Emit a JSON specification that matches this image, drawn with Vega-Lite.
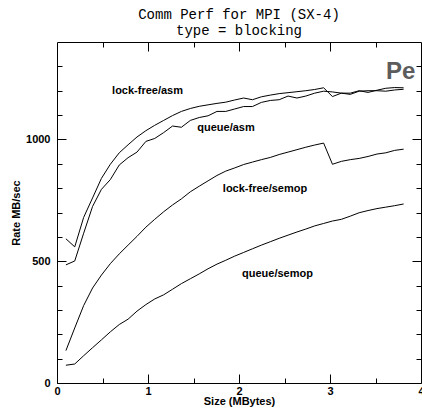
{
  "$schema": "https://vega.github.io/schema/vega-lite/v6.json",
  "width": 364,
  "height": 341,
  "autosize": "none",
  "padding": {"left": 57, "top": 42, "right": 1, "bottom": 26},
  "background": "white",
  "title": {
    "text": ["Comm Perf for MPI (SX-4)", "type = blocking"],
    "font": "Liberation Mono",
    "fontSize": 14,
    "fontWeight": "normal",
    "lineHeight": 16,
    "offset": 4,
    "color": "black"
  },
  "config": {
    "view": {"stroke": "black", "strokeWidth": 1},
    "axis": {
      "domain": false,
      "grid": false,
      "format": "d",
      "labelFont": "Liberation Sans",
      "labelFontWeight": "bold",
      "labelFontSize": 11,
      "labelColor": "black",
      "labelFlush": false,
      "labelOverlap": false,
      "tickColor": "black",
      "tickWidth": 1,
      "titleFont": "Liberation Sans",
      "titleFontWeight": "bold",
      "titleFontSize": 11,
      "titleColor": "black"
    }
  },
  "datasets": {
    "curves": [
      {"series": "lock-free/asm", "size": 0.098, "rate": 592},
      {"series": "lock-free/asm", "size": 0.195, "rate": 559},
      {"series": "lock-free/asm", "size": 0.293, "rate": 680},
      {"series": "lock-free/asm", "size": 0.391, "rate": 760},
      {"series": "lock-free/asm", "size": 0.488, "rate": 840},
      {"series": "lock-free/asm", "size": 0.586, "rate": 898},
      {"series": "lock-free/asm", "size": 0.684, "rate": 945},
      {"series": "lock-free/asm", "size": 0.781, "rate": 978},
      {"series": "lock-free/asm", "size": 0.879, "rate": 1010},
      {"series": "lock-free/asm", "size": 0.977, "rate": 1036},
      {"series": "lock-free/asm", "size": 1.074, "rate": 1058},
      {"series": "lock-free/asm", "size": 1.172, "rate": 1078},
      {"series": "lock-free/asm", "size": 1.270, "rate": 1098},
      {"series": "lock-free/asm", "size": 1.367, "rate": 1115},
      {"series": "lock-free/asm", "size": 1.465, "rate": 1127},
      {"series": "lock-free/asm", "size": 1.563, "rate": 1136},
      {"series": "lock-free/asm", "size": 1.660, "rate": 1142},
      {"series": "lock-free/asm", "size": 1.758, "rate": 1148},
      {"series": "lock-free/asm", "size": 1.855, "rate": 1153},
      {"series": "lock-free/asm", "size": 1.953, "rate": 1162},
      {"series": "lock-free/asm", "size": 2.051, "rate": 1170},
      {"series": "lock-free/asm", "size": 2.148, "rate": 1163},
      {"series": "lock-free/asm", "size": 2.246, "rate": 1175},
      {"series": "lock-free/asm", "size": 2.344, "rate": 1182},
      {"series": "lock-free/asm", "size": 2.441, "rate": 1188},
      {"series": "lock-free/asm", "size": 2.539, "rate": 1192},
      {"series": "lock-free/asm", "size": 2.637, "rate": 1196},
      {"series": "lock-free/asm", "size": 2.734, "rate": 1200},
      {"series": "lock-free/asm", "size": 2.832, "rate": 1205},
      {"series": "lock-free/asm", "size": 2.930, "rate": 1212},
      {"series": "lock-free/asm", "size": 3.027, "rate": 1176},
      {"series": "lock-free/asm", "size": 3.125, "rate": 1190},
      {"series": "lock-free/asm", "size": 3.223, "rate": 1190},
      {"series": "lock-free/asm", "size": 3.320, "rate": 1200},
      {"series": "lock-free/asm", "size": 3.418, "rate": 1193},
      {"series": "lock-free/asm", "size": 3.516, "rate": 1202},
      {"series": "lock-free/asm", "size": 3.613, "rate": 1210},
      {"series": "lock-free/asm", "size": 3.711, "rate": 1213},
      {"series": "lock-free/asm", "size": 3.809, "rate": 1212},
      {"series": "queue/asm", "size": 0.098, "rate": 485},
      {"series": "queue/asm", "size": 0.195, "rate": 501},
      {"series": "queue/asm", "size": 0.293, "rate": 615},
      {"series": "queue/asm", "size": 0.391, "rate": 725},
      {"series": "queue/asm", "size": 0.488, "rate": 795},
      {"series": "queue/asm", "size": 0.586, "rate": 835},
      {"series": "queue/asm", "size": 0.684, "rate": 895},
      {"series": "queue/asm", "size": 0.781, "rate": 925},
      {"series": "queue/asm", "size": 0.879, "rate": 948},
      {"series": "queue/asm", "size": 0.977, "rate": 992},
      {"series": "queue/asm", "size": 1.074, "rate": 1004},
      {"series": "queue/asm", "size": 1.172, "rate": 1028},
      {"series": "queue/asm", "size": 1.270, "rate": 1055},
      {"series": "queue/asm", "size": 1.367, "rate": 1050},
      {"series": "queue/asm", "size": 1.465, "rate": 1078},
      {"series": "queue/asm", "size": 1.563, "rate": 1090},
      {"series": "queue/asm", "size": 1.660, "rate": 1097},
      {"series": "queue/asm", "size": 1.758, "rate": 1115},
      {"series": "queue/asm", "size": 1.855, "rate": 1115},
      {"series": "queue/asm", "size": 1.953, "rate": 1125},
      {"series": "queue/asm", "size": 2.051, "rate": 1135},
      {"series": "queue/asm", "size": 2.148, "rate": 1135},
      {"series": "queue/asm", "size": 2.246, "rate": 1152},
      {"series": "queue/asm", "size": 2.344, "rate": 1160},
      {"series": "queue/asm", "size": 2.441, "rate": 1163},
      {"series": "queue/asm", "size": 2.539, "rate": 1178},
      {"series": "queue/asm", "size": 2.637, "rate": 1170},
      {"series": "queue/asm", "size": 2.734, "rate": 1178},
      {"series": "queue/asm", "size": 2.832, "rate": 1190},
      {"series": "queue/asm", "size": 2.930, "rate": 1198},
      {"series": "queue/asm", "size": 3.027, "rate": 1195},
      {"series": "queue/asm", "size": 3.125, "rate": 1190},
      {"series": "queue/asm", "size": 3.223, "rate": 1185},
      {"series": "queue/asm", "size": 3.320, "rate": 1198},
      {"series": "queue/asm", "size": 3.418, "rate": 1200},
      {"series": "queue/asm", "size": 3.516, "rate": 1200},
      {"series": "queue/asm", "size": 3.613, "rate": 1198},
      {"series": "queue/asm", "size": 3.711, "rate": 1203},
      {"series": "queue/asm", "size": 3.809, "rate": 1206},
      {"series": "lock-free/semop", "size": 0.098, "rate": 133},
      {"series": "lock-free/semop", "size": 0.195, "rate": 226},
      {"series": "lock-free/semop", "size": 0.293, "rate": 318},
      {"series": "lock-free/semop", "size": 0.391, "rate": 390},
      {"series": "lock-free/semop", "size": 0.488, "rate": 443},
      {"series": "lock-free/semop", "size": 0.586, "rate": 490},
      {"series": "lock-free/semop", "size": 0.684, "rate": 530},
      {"series": "lock-free/semop", "size": 0.781, "rate": 566},
      {"series": "lock-free/semop", "size": 0.879, "rate": 602},
      {"series": "lock-free/semop", "size": 0.977, "rate": 640},
      {"series": "lock-free/semop", "size": 1.074, "rate": 672},
      {"series": "lock-free/semop", "size": 1.172, "rate": 703},
      {"series": "lock-free/semop", "size": 1.270, "rate": 731},
      {"series": "lock-free/semop", "size": 1.367, "rate": 756},
      {"series": "lock-free/semop", "size": 1.465, "rate": 785},
      {"series": "lock-free/semop", "size": 1.563, "rate": 808},
      {"series": "lock-free/semop", "size": 1.660, "rate": 830},
      {"series": "lock-free/semop", "size": 1.758, "rate": 852},
      {"series": "lock-free/semop", "size": 1.855, "rate": 870},
      {"series": "lock-free/semop", "size": 1.953, "rate": 883},
      {"series": "lock-free/semop", "size": 2.051, "rate": 897},
      {"series": "lock-free/semop", "size": 2.148, "rate": 907},
      {"series": "lock-free/semop", "size": 2.246, "rate": 917},
      {"series": "lock-free/semop", "size": 2.344, "rate": 926},
      {"series": "lock-free/semop", "size": 2.441, "rate": 938},
      {"series": "lock-free/semop", "size": 2.539, "rate": 948},
      {"series": "lock-free/semop", "size": 2.637, "rate": 958},
      {"series": "lock-free/semop", "size": 2.734, "rate": 968},
      {"series": "lock-free/semop", "size": 2.832, "rate": 977},
      {"series": "lock-free/semop", "size": 2.930, "rate": 985},
      {"series": "lock-free/semop", "size": 3.027, "rate": 898},
      {"series": "lock-free/semop", "size": 3.125, "rate": 910},
      {"series": "lock-free/semop", "size": 3.223, "rate": 917},
      {"series": "lock-free/semop", "size": 3.320, "rate": 922},
      {"series": "lock-free/semop", "size": 3.418, "rate": 930},
      {"series": "lock-free/semop", "size": 3.516, "rate": 940},
      {"series": "lock-free/semop", "size": 3.613, "rate": 945},
      {"series": "lock-free/semop", "size": 3.711, "rate": 955},
      {"series": "lock-free/semop", "size": 3.809, "rate": 960},
      {"series": "queue/semop", "size": 0.098, "rate": 73},
      {"series": "queue/semop", "size": 0.195, "rate": 78},
      {"series": "queue/semop", "size": 0.293, "rate": 112},
      {"series": "queue/semop", "size": 0.391, "rate": 145},
      {"series": "queue/semop", "size": 0.488, "rate": 177},
      {"series": "queue/semop", "size": 0.586, "rate": 210},
      {"series": "queue/semop", "size": 0.684, "rate": 240},
      {"series": "queue/semop", "size": 0.781, "rate": 262},
      {"series": "queue/semop", "size": 0.879, "rate": 295},
      {"series": "queue/semop", "size": 0.977, "rate": 322},
      {"series": "queue/semop", "size": 1.074, "rate": 345},
      {"series": "queue/semop", "size": 1.172, "rate": 362},
      {"series": "queue/semop", "size": 1.270, "rate": 385},
      {"series": "queue/semop", "size": 1.367, "rate": 408},
      {"series": "queue/semop", "size": 1.465, "rate": 428},
      {"series": "queue/semop", "size": 1.563, "rate": 448},
      {"series": "queue/semop", "size": 1.660, "rate": 469},
      {"series": "queue/semop", "size": 1.758, "rate": 488},
      {"series": "queue/semop", "size": 1.855, "rate": 504},
      {"series": "queue/semop", "size": 1.953, "rate": 521},
      {"series": "queue/semop", "size": 2.051, "rate": 536},
      {"series": "queue/semop", "size": 2.148, "rate": 551},
      {"series": "queue/semop", "size": 2.246, "rate": 566},
      {"series": "queue/semop", "size": 2.344, "rate": 580},
      {"series": "queue/semop", "size": 2.441, "rate": 594},
      {"series": "queue/semop", "size": 2.539, "rate": 607},
      {"series": "queue/semop", "size": 2.637, "rate": 620},
      {"series": "queue/semop", "size": 2.734, "rate": 632},
      {"series": "queue/semop", "size": 2.832, "rate": 645},
      {"series": "queue/semop", "size": 2.930, "rate": 655},
      {"series": "queue/semop", "size": 3.027, "rate": 665},
      {"series": "queue/semop", "size": 3.125, "rate": 672},
      {"series": "queue/semop", "size": 3.223, "rate": 685},
      {"series": "queue/semop", "size": 3.320, "rate": 699},
      {"series": "queue/semop", "size": 3.418, "rate": 708},
      {"series": "queue/semop", "size": 3.516, "rate": 716},
      {"series": "queue/semop", "size": 3.613, "rate": 722},
      {"series": "queue/semop", "size": 3.711, "rate": 728},
      {"series": "queue/semop", "size": 3.809, "rate": 735}
    ],
    "labels": [
      {"label": "lock-free/asm", "size": 0.995, "rate": 1200},
      {"label": "queue/asm", "size": 1.857, "rate": 1046},
      {"label": "lock-free/semop", "size": 2.286, "rate": 797},
      {"label": "queue/semop", "size": 2.423, "rate": 447}
    ],
    "watermark": [
      {"label": "Pe", "size": 3.615, "rate": 1250}
    ]
  },
  "layer": [
    {
      "data": {"name": "watermark"},
      "mark": {"type": "text", "align": "left", "baseline": "alphabetic", "font": "Liberation Sans", "fontWeight": "bold", "fontSize": 24, "color": "#5c5c5c"},
      "encoding": {
        "x": {"field": "size", "type": "quantitative", "scale": {"domain": [0, 4], "nice": false}, "axis": {"orient": "top", "values": [0.5, 1.5, 2.5, 3.5], "tickSize": -5, "labels": false, "title": null}},
        "y": {"field": "rate", "type": "quantitative", "scale": {"domain": [0, 1400], "nice": false}, "axis": {"orient": "right", "values": [100, 200, 300, 400, 600, 700, 800, 900, 1100, 1200, 1300], "tickSize": -5, "labels": false, "title": null}},
        "text": {"field": "label"}
      }
    },
    {
      "data": {"name": "curves"},
      "mark": {"type": "line", "color": "black", "strokeWidth": 1},
      "encoding": {
        "x": {"field": "size", "type": "quantitative", "scale": {"domain": [0, 4], "nice": false}, "axis": {"orient": "bottom", "values": [0, 1, 2, 3, 4], "tickSize": -9, "labelPadding": 11, "title": "Size (MBytes)", "titlePadding": -1}},
        "y": {"field": "rate", "type": "quantitative", "scale": {"domain": [0, 1400], "nice": false}, "axis": {"orient": "left", "values": [0, 500, 1000], "tickSize": -9, "labelPadding": 16, "title": "Rate MB/sec", "titlePadding": 4}},
        "detail": {"field": "series"}
      }
    },
    {
      "data": {"name": "labels"},
      "mark": {"type": "text", "font": "Liberation Sans", "fontWeight": "bold", "fontSize": 11, "color": "black", "baseline": "middle", "align": "center"},
      "encoding": {
        "x": {"field": "size", "type": "quantitative", "scale": {"domain": [0, 4], "nice": false}, "axis": {"orient": "bottom", "values": [0.5, 1.5, 2.5, 3.5], "tickSize": -5, "labels": false, "title": null}},
        "y": {"field": "rate", "type": "quantitative", "scale": {"domain": [0, 1400], "nice": false}, "axis": {"orient": "left", "values": [100, 200, 300, 400, 600, 700, 800, 900, 1100, 1200, 1300], "tickSize": -5, "labels": false, "title": null}},
        "text": {"field": "label"}
      }
    },
    {
      "data": {"name": "labels"},
      "mark": {"type": "point", "opacity": 0},
      "encoding": {
        "x": {"field": "size", "type": "quantitative", "scale": {"domain": [0, 4], "nice": false}, "axis": {"orient": "top", "values": [1, 2, 3], "tickSize": -9, "labels": false, "title": null}},
        "y": {"field": "rate", "type": "quantitative", "scale": {"domain": [0, 1400], "nice": false}, "axis": {"orient": "right", "values": [500, 1000], "tickSize": -9, "labels": false, "title": null}}
      }
    }
  ],
  "resolve": {"axis": {"x": "independent", "y": "independent"}}
}
